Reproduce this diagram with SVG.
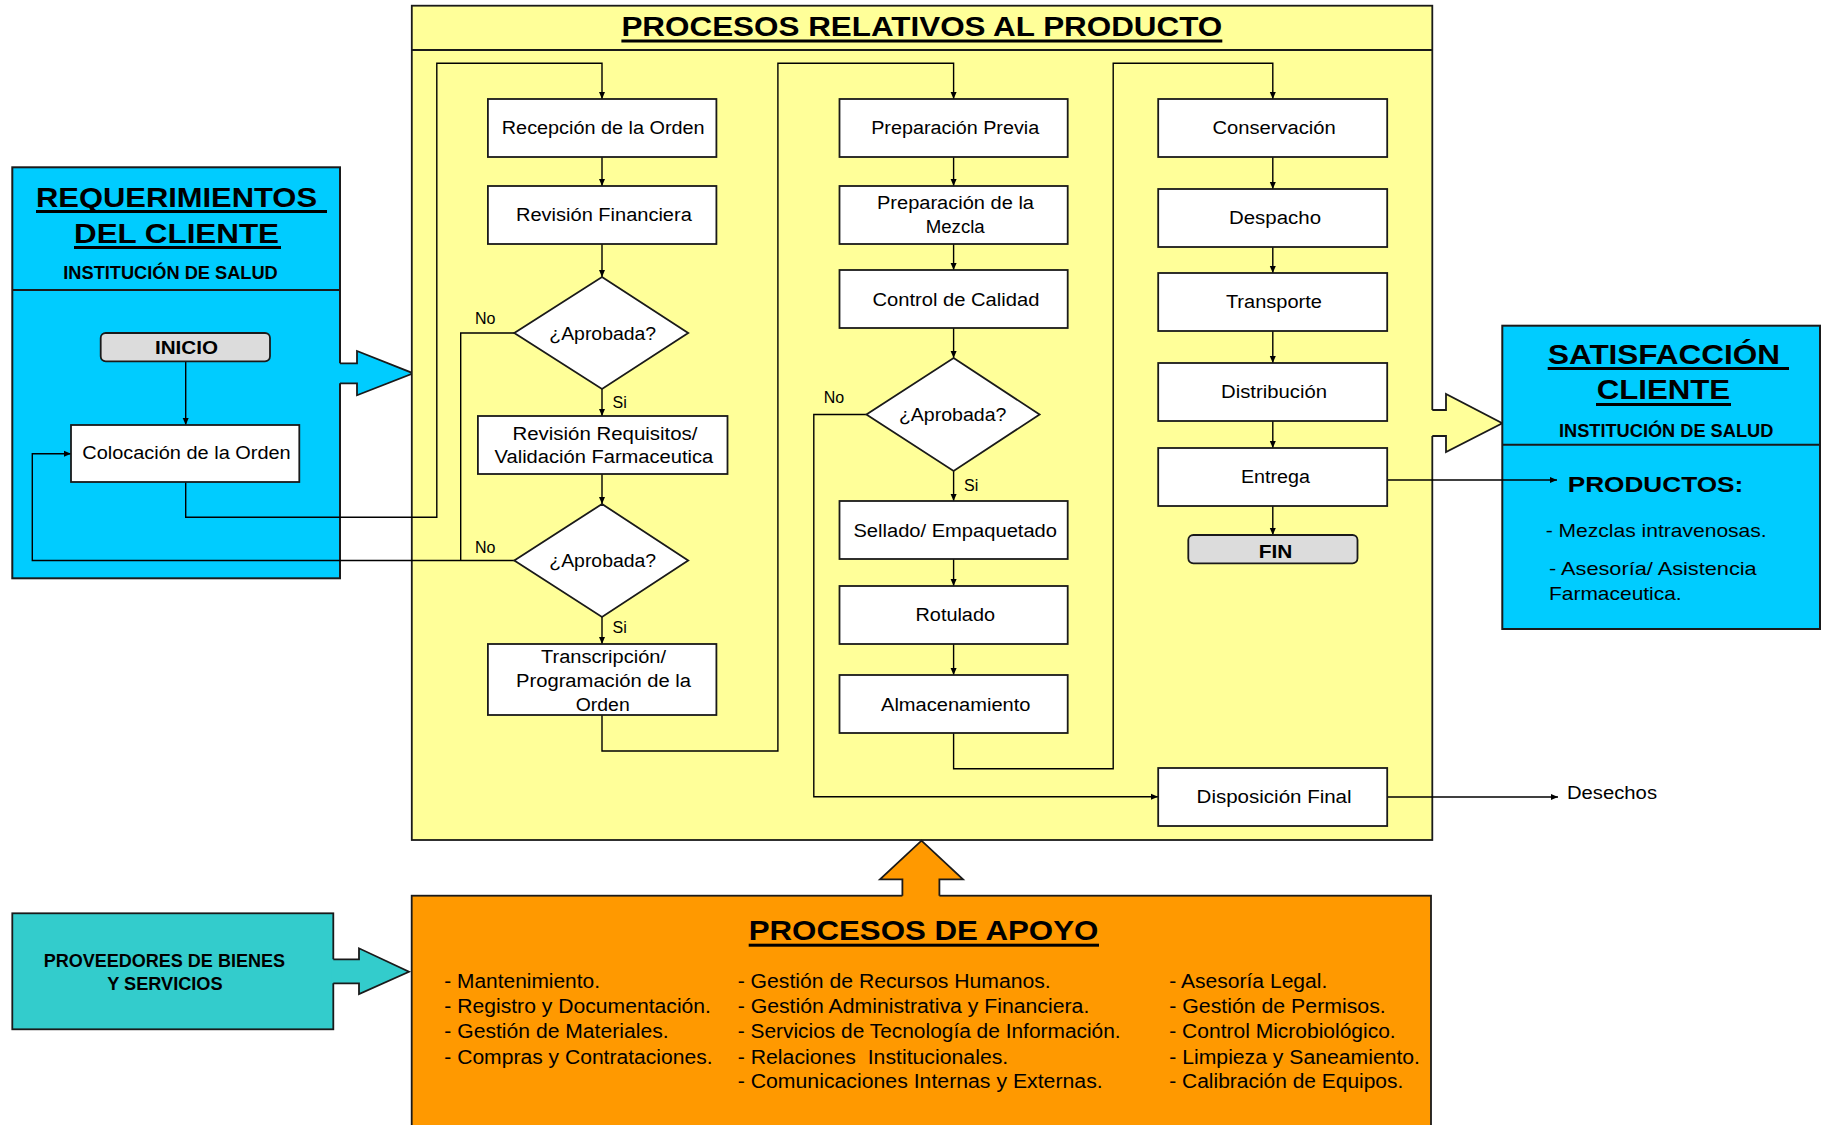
<svg xmlns="http://www.w3.org/2000/svg" width="1822" height="1125" viewBox="0 0 1822 1125">
<defs>
<style>
.t{font-family:"Liberation Sans",Arial,sans-serif;font-size:18px;fill:#000}
.b{font-weight:bold}
.h1{font-size:28px;font-weight:bold}
.lbl{font-size:16px}
.li{font-size:19.5px}
.box{fill:#fff;stroke:#1a1a1a;stroke-width:1.8}
.term{fill:#dcdcdc;stroke:#1a1a1a;stroke-width:1.8}
.conn{fill:none;stroke:#000;stroke-width:1.4}
.edge{fill:none;stroke:#1a1a1a;stroke-width:1.8}
</style>
<marker id="ah" markerWidth="8" markerHeight="8" refX="7" refY="4" orient="auto" markerUnits="userSpaceOnUse"><path d="M0,1 L7,4 L0,7 z" fill="#000"/></marker>
</defs>
<rect width="1822" height="1125" fill="#fff"/>

<!-- Client requirements panel -->
<g id="requerimientos">
<rect x="12.3" y="167.3" width="327.7" height="411" fill="#00ccff" stroke="#1a1a1a" stroke-width="2"/>
<line x1="12.3" y1="290" x2="340" y2="290" stroke="#1a1a1a" stroke-width="2"/>
<text class="t h1" x="36" y="207" textLength="281" lengthAdjust="spacingAndGlyphs">REQUERIMIENTOS</text>
<rect x="36" y="210" width="291" height="3" fill="#000"/>
<text class="t h1" x="74" y="243" textLength="205" lengthAdjust="spacingAndGlyphs">DEL CLIENTE</text>
<rect x="74" y="246" width="207" height="3" fill="#000"/>
<text class="t b" x="63.3" y="279" textLength="214.4" lengthAdjust="spacingAndGlyphs">INSTITUCIÓN DE SALUD</text>
</g>
<g id="arrow-req">
<polygon points="338,363.3 357,363.3 357,351 413.3,373.3 357,395.3 357,383.3 338,383.3" fill="#00ccff"/>
<polyline points="340,363.3 357,363.3 357,351 413.3,373.3 357,395.3 357,383.3 340,383.3" class="edge"/>
</g>

<!-- Product processes panel -->
<g id="procesos-producto">
<rect x="411.8" y="5.7" width="1020.5" height="834.3" fill="#ffff99" stroke="#1a1a1a" stroke-width="1.8"/>
<line x1="411.8" y1="50" x2="1432.3" y2="50" stroke="#1a1a1a" stroke-width="1.8"/>
<text class="t b" style="font-size:27px" x="621.4" y="36" textLength="600.9" lengthAdjust="spacingAndGlyphs">PROCESOS RELATIVOS AL PRODUCTO</text>
<rect x="621.4" y="39.5" width="600.9" height="3" fill="#000"/>
</g>
<g id="arrow-sat">
<polygon points="1430,410 1446,410 1446,394 1502.3,423.3 1446,452 1446,436 1430,436" fill="#ffff99"/>
<polyline points="1432.3,410 1446,410 1446,394 1502.3,423.3 1446,452 1446,436 1432.3,436" class="edge"/>
</g>

<!-- Satisfaction panel -->
<g id="satisfaccion">
<rect x="1502.3" y="325.7" width="317.7" height="303.3" fill="#00ccff" stroke="#1a1a1a" stroke-width="2"/>
<line x1="1502.3" y1="444.7" x2="1820" y2="444.7" stroke="#1a1a1a" stroke-width="2"/>
<text class="t h1" x="1548" y="364" textLength="232" lengthAdjust="spacingAndGlyphs">SATISFACCIÓN</text>
<rect x="1547.7" y="367" width="241.3" height="3" fill="#000"/>
<text class="t h1" x="1596.7" y="399.3" textLength="133.3" lengthAdjust="spacingAndGlyphs">CLIENTE</text>
<rect x="1596" y="403" width="135" height="3" fill="#000"/>
<text class="t b" x="1559" y="437" textLength="214.3" lengthAdjust="spacingAndGlyphs">INSTITUCIÓN DE SALUD</text>
<text class="t b" style="font-size:22.5px" x="1567.7" y="492" textLength="175.6" lengthAdjust="spacingAndGlyphs">PRODUCTOS:</text>
<text class="t" style="font-size:18.5px" x="1545.7" y="537" textLength="221" lengthAdjust="spacingAndGlyphs">- Mezclas intravenosas.</text>
<text class="t" style="font-size:18.5px" x="1549" y="575" textLength="207.7" lengthAdjust="spacingAndGlyphs">- Asesoría/ Asistencia</text>
<text class="t" style="font-size:18.5px" x="1549" y="600" textLength="132.7" lengthAdjust="spacingAndGlyphs">Farmaceutica.</text>
</g>

<!-- Suppliers -->
<g id="proveedores">
<rect x="12.3" y="913.3" width="321" height="116" fill="#33cccc" stroke="#1a1a1a" stroke-width="1.8"/>
<text class="t b" style="font-size:17.5px" x="43.7" y="967" textLength="241.3" lengthAdjust="spacingAndGlyphs">PROVEEDORES DE BIENES</text>
<text class="t b" style="font-size:17.5px" x="107.3" y="990" textLength="115.3" lengthAdjust="spacingAndGlyphs">Y SERVICIOS</text>
</g>
<g id="arrow-prov">
<polygon points="331.5,959.3 359,959.3 359,948.3 409,971.7 359,994 359,983.3 331.5,983.3" fill="#33cccc"/>
<polyline points="333.3,959.3 359,959.3 359,948.3 409,971.7 359,994 359,983.3 333.3,983.3" class="edge"/>
</g>

<!-- Support processes -->
<g id="procesos-apoyo">
<rect x="411.7" y="895.7" width="1019.3" height="240" fill="#ff9900" stroke="#1a1a1a" stroke-width="1.8"/>
<text class="t h1" x="748.7" y="940" textLength="349.6" lengthAdjust="spacingAndGlyphs">PROCESOS DE APOYO</text>
<rect x="748.7" y="943.7" width="350.3" height="3" fill="#000"/>
<text class="t li" x="444.3" y="988" textLength="155.7" lengthAdjust="spacingAndGlyphs">- Mantenimiento.</text>
<text class="t li" x="444.3" y="1013" textLength="266.7" lengthAdjust="spacingAndGlyphs">- Registro y Documentación.</text>
<text class="t li" x="444.3" y="1038" textLength="224.3" lengthAdjust="spacingAndGlyphs">- Gestión de Materiales.</text>
<text class="t li" x="444.3" y="1063.5" textLength="268.3" lengthAdjust="spacingAndGlyphs">- Compras y Contrataciones.</text>
<text class="t li" x="737.7" y="988" textLength="313" lengthAdjust="spacingAndGlyphs">- Gestión de Recursos Humanos.</text>
<text class="t li" x="737.7" y="1013" textLength="351.6" lengthAdjust="spacingAndGlyphs">- Gestión Administrativa y Financiera.</text>
<text class="t li" x="737.7" y="1038" textLength="383" lengthAdjust="spacingAndGlyphs">- Servicios de Tecnología de Información.</text>
<text class="t li" x="737.7" y="1063.5" textLength="270.6" lengthAdjust="spacingAndGlyphs" xml:space="preserve">- Relaciones  Institucionales.</text>
<text class="t li" x="737.7" y="1088.3" textLength="365" lengthAdjust="spacingAndGlyphs">- Comunicaciones Internas y Externas.</text>
<text class="t li" x="1169.3" y="988" textLength="158" lengthAdjust="spacingAndGlyphs">- Asesoría Legal.</text>
<text class="t li" x="1169.3" y="1013" textLength="216.4" lengthAdjust="spacingAndGlyphs">- Gestión de Permisos.</text>
<text class="t li" x="1169.3" y="1038" textLength="226.4" lengthAdjust="spacingAndGlyphs">- Control Microbiológico.</text>
<text class="t li" x="1169.3" y="1063.5" textLength="250.7" lengthAdjust="spacingAndGlyphs">- Limpieza y Saneamiento.</text>
<text class="t li" x="1169.3" y="1088.3" textLength="234" lengthAdjust="spacingAndGlyphs">- Calibración de Equipos.</text>
</g>
<g id="arrow-apoyo">
<polygon points="902.4,898 902.4,879.3 880,879.3 921.5,840.7 963,879.3 939.4,879.3 939.4,898" fill="#ff9900"/>
<polyline points="902.4,895.7 902.4,879.3 880,879.3 921.5,840.7 963,879.3 939.4,879.3 939.4,895.7" class="edge"/>
</g>

<!-- Connectors -->
<g id="connectors" class="conn">
<path d="M185.7,361.3 V425" marker-end="url(#ah)"/>
<path d="M185.7,482 V517.3 H436.8 V63.3 H602 V99" marker-end="url(#ah)"/>
<path d="M602,157 V186" marker-end="url(#ah)"/>
<path d="M602,244 V277" marker-end="url(#ah)"/>
<path d="M602,389 V416" marker-end="url(#ah)"/>
<path d="M515,333 H460.7 V560.5"/>
<path d="M602,474 V504" marker-end="url(#ah)"/>
<path d="M515,560.5 H32.3 V453.7 H71" marker-end="url(#ah)"/>
<path d="M602,617 V644" marker-end="url(#ah)"/>
<path d="M602,715 V751 H777.9 V63.3 H953.6 V99" marker-end="url(#ah)"/>
<path d="M953.6,157 V186" marker-end="url(#ah)"/>
<path d="M953.6,244 V270" marker-end="url(#ah)"/>
<path d="M953.6,328 V358" marker-end="url(#ah)"/>
<path d="M953.6,471 V501" marker-end="url(#ah)"/>
<path d="M953.6,559 V586" marker-end="url(#ah)"/>
<path d="M953.6,644 V675" marker-end="url(#ah)"/>
<path d="M866.4,414.5 H813.8 V796.7 H1158" marker-end="url(#ah)"/>
<path d="M953.6,733 V768.7 H1113.2 V63.3 H1272.8 V99" marker-end="url(#ah)"/>
<path d="M1272.8,157 V189" marker-end="url(#ah)"/>
<path d="M1272.8,247 V273" marker-end="url(#ah)"/>
<path d="M1272.8,331 V363" marker-end="url(#ah)"/>
<path d="M1272.8,421 V448" marker-end="url(#ah)"/>
<path d="M1272.8,506 V535" marker-end="url(#ah)"/>
<path d="M1387,480 H1557" marker-end="url(#ah)"/>
<path d="M1387,797 H1558" marker-end="url(#ah)"/>
</g>
<g id="edge-labels">
<text class="t lbl" x="475" y="324">No</text>
<text class="t lbl" x="612.5" y="408">Si</text>
<text class="t lbl" x="475" y="553">No</text>
<text class="t lbl" x="612.5" y="633">Si</text>
<text class="t lbl" x="823.7" y="403">No</text>
<text class="t lbl" x="964" y="491">Si</text>
<text class="t" x="1567" y="799" textLength="90" lengthAdjust="spacingAndGlyphs">Desechos</text>
</g>

<!-- Nodes -->
<g id="inicio">
<rect class="term" x="100.7" y="333" width="169.3" height="28.3" rx="5"/>
<text class="t b" x="155" y="354" textLength="63" lengthAdjust="spacingAndGlyphs">INICIO</text>
</g>
<g id="colocacion">
<rect class="box" x="71" y="425" width="228.3" height="57"/>
<text class="t" x="82.3" y="459" textLength="208.4" lengthAdjust="spacingAndGlyphs">Colocación de la Orden</text>
</g>
<g id="recepcion">
<rect class="box" x="487.9" y="99" width="228.5" height="58"/>
<text class="t" x="501.8" y="134" textLength="202.8" lengthAdjust="spacingAndGlyphs">Recepción de la Orden</text>
</g>
<g id="revision-financiera">
<rect class="box" x="487.9" y="186" width="228.5" height="58"/>
<text class="t" x="516" y="221" textLength="175.8" lengthAdjust="spacingAndGlyphs">Revisión Financiera</text>
</g>
<g id="aprobada-1">
<polygon class="box" points="602,277 688.2,333 602,389 514.3,333"/>
<text class="t" x="549.3" y="340" textLength="106.8" lengthAdjust="spacingAndGlyphs">¿Aprobada?</text>
</g>
<g id="revision-requisitos">
<rect class="box" x="477.9" y="416" width="249.6" height="58"/>
<text class="t" x="512.5" y="440" textLength="185" lengthAdjust="spacingAndGlyphs">Revisión Requisitos/</text>
<text class="t" x="494.6" y="463" textLength="218.6" lengthAdjust="spacingAndGlyphs">Validación Farmaceutica</text>
</g>
<g id="aprobada-2">
<polygon class="box" points="602,504 688.2,560.5 602,617 514.3,560.5"/>
<text class="t" x="549.3" y="567" textLength="106.8" lengthAdjust="spacingAndGlyphs">¿Aprobada?</text>
</g>
<g id="transcripcion">
<rect class="box" x="487.9" y="644" width="228.5" height="71"/>
<text class="t" x="541" y="663" textLength="125" lengthAdjust="spacingAndGlyphs">Transcripción/</text>
<text class="t" x="516" y="687" textLength="175" lengthAdjust="spacingAndGlyphs">Programación de la</text>
<text class="t" x="575.7" y="711" textLength="54" lengthAdjust="spacingAndGlyphs">Orden</text>
</g>
<g id="preparacion-previa">
<rect class="box" x="839.5" y="99" width="228.2" height="58"/>
<text class="t" x="871.2" y="134" textLength="168" lengthAdjust="spacingAndGlyphs">Preparación Previa</text>
</g>
<g id="preparacion-mezcla">
<rect class="box" x="839.5" y="186" width="228.2" height="58"/>
<text class="t" x="877" y="209" textLength="157" lengthAdjust="spacingAndGlyphs">Preparación de la</text>
<text class="t" x="925.7" y="233" textLength="59" lengthAdjust="spacingAndGlyphs">Mezcla</text>
</g>
<g id="control-calidad">
<rect class="box" x="839.5" y="270" width="228.2" height="58"/>
<text class="t" x="872.4" y="306" textLength="167" lengthAdjust="spacingAndGlyphs">Control de Calidad</text>
</g>
<g id="aprobada-3">
<polygon class="box" points="953.6,358 1039.6,414.5 953.6,471 866.4,414.5"/>
<text class="t" x="898.9" y="420.5" textLength="107.5" lengthAdjust="spacingAndGlyphs">¿Aprobada?</text>
</g>
<g id="sellado">
<rect class="box" x="839.5" y="501" width="228.2" height="58"/>
<text class="t" x="853.4" y="537" textLength="203.6" lengthAdjust="spacingAndGlyphs">Sellado/ Empaquetado</text>
</g>
<g id="rotulado">
<rect class="box" x="839.5" y="586" width="228.2" height="58"/>
<text class="t" x="915.5" y="621" textLength="79.5" lengthAdjust="spacingAndGlyphs">Rotulado</text>
</g>
<g id="almacenamiento">
<rect class="box" x="839.5" y="675" width="228.2" height="58"/>
<text class="t" x="881" y="711" textLength="149.5" lengthAdjust="spacingAndGlyphs">Almacenamiento</text>
</g>
<g id="conservacion">
<rect class="box" x="1158.2" y="99" width="229" height="58"/>
<text class="t" x="1212.4" y="134" textLength="123.4" lengthAdjust="spacingAndGlyphs">Conservación</text>
</g>
<g id="despacho">
<rect class="box" x="1158.2" y="189" width="229" height="58"/>
<text class="t" x="1229" y="224" textLength="92" lengthAdjust="spacingAndGlyphs">Despacho</text>
</g>
<g id="transporte">
<rect class="box" x="1158.2" y="273" width="229" height="58"/>
<text class="t" x="1225.9" y="308" textLength="96" lengthAdjust="spacingAndGlyphs">Transporte</text>
</g>
<g id="distribucion">
<rect class="box" x="1158.2" y="363" width="229" height="58"/>
<text class="t" x="1221" y="397.5" textLength="106" lengthAdjust="spacingAndGlyphs">Distribución</text>
</g>
<g id="entrega">
<rect class="box" x="1158.2" y="448" width="229" height="58"/>
<text class="t" x="1240.9" y="483" textLength="69" lengthAdjust="spacingAndGlyphs">Entrega</text>
</g>
<g id="fin">
<rect class="term" x="1188.3" y="535" width="169.2" height="28.3" rx="5"/>
<text class="t b" x="1258.7" y="558" textLength="33.6" lengthAdjust="spacingAndGlyphs">FIN</text>
</g>
<g id="disposicion-final">
<rect class="box" x="1158.2" y="768" width="229" height="58"/>
<text class="t" x="1196.6" y="803.3" textLength="155" lengthAdjust="spacingAndGlyphs">Disposición Final</text>
</g>
</svg>
